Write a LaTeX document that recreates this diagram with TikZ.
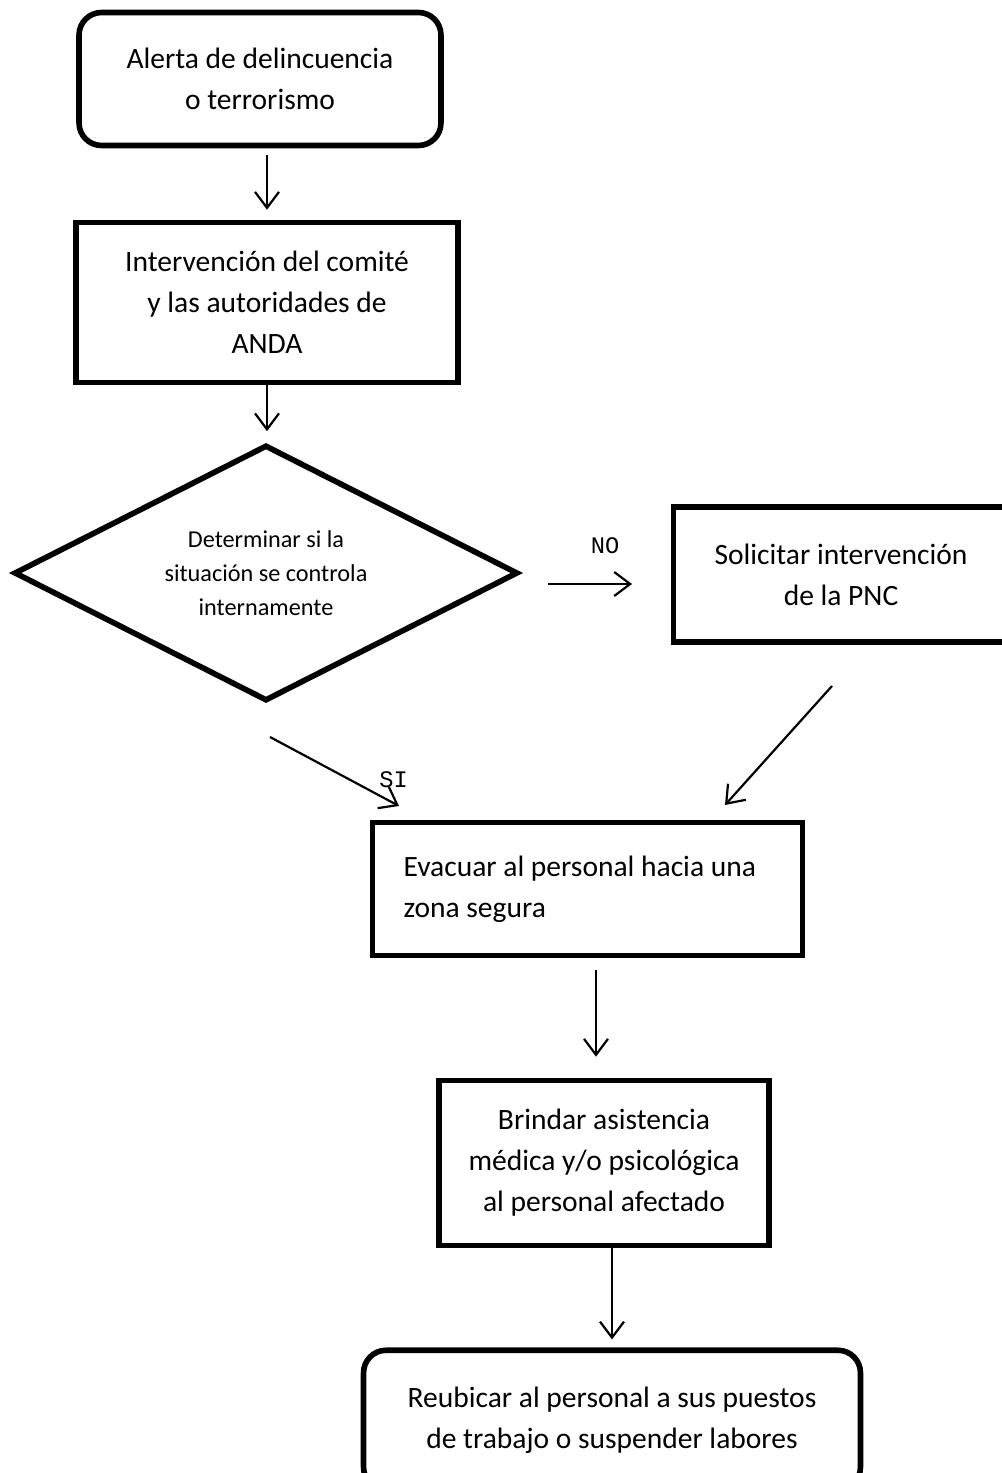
\documentclass[tikz,border=0pt]{standalone}
\usepackage{fontspec}
\setmainfont{Carlito}
\newfontfamily\labelfont{Liberation Mono}
\usetikzlibrary{arrows.meta,shapes.geometric}

\begin{document}
\begin{tikzpicture}[x=0.02cm,y=-0.02cm,
  caja/.style={draw,line width=3.2pt,align=center,inner sep=0pt,font=\fontsize{16.8}{23.3}\selectfont},
  redonda/.style={caja,rounded corners=0.45cm},
  rombo/.style={draw,diamond,aspect=2,line width=3.2pt,align=center,inner sep=0pt,font=\fontsize{13.8}{19.4}\selectfont},
  flecha/.style={line width=1.25pt,-{Straight Barb[length=0.32cm,width=0.48cm,line width=1.25pt]}},
  rotulo/.style={font=\labelfont\fontsize{13.5}{15}\selectfont}]
  \useasboundingbox (0,0) rectangle (1001,1473);
  \node[redonda,minimum width=7.24cm,minimum height=2.66cm] (alerta) at (260,79) {Alerta de delincuencia\\o terrorismo};
  \node[caja,minimum width=7.64cm,minimum height=3.2cm] (comite) at (267,302.5) {Intervención del comité\\y las autoridades de\\ANDA};
  \node[rombo,minimum width=10.08cm,minimum height=5.12cm] (decision) at (266,573) {Determinar si la\\situación se controla\\internamente};
  \node[caja,minimum width=6.7cm,minimum height=2.7cm] (pnc) at (841,574.5) {Solicitar intervención\\de la PNC};
  \node[caja,align=flush left,text width=7.36cm,minimum width=8.6cm,minimum height=2.66cm] (evacuar) at (587.5,889) {Evacuar al personal hacia una\\zona segura};
  \node[caja,minimum width=6.6cm,minimum height=3.3cm] (brindar) at (604,1163) {Brindar asistencia\\médica y/o psicológica\\al personal afectado};
  \node[redonda,minimum width=9.94cm,minimum height=2.79cm] (reubicar) at (612,1420) {Reubicar al personal a sus puestos\\de trabajo o suspender labores};
  \draw[flecha,shorten <=0.14cm,shorten >=0.2cm] (comite.north |- alerta.south) -- (comite.north);
  \draw[flecha,shorten >=0.22cm] (comite.south) -- (comite.south |- decision.north);
  \coordinate (noA) at (548,584);
  \coordinate (noB) at (632,584);
  \draw[flecha] (noA) -- (noB);
  \node[rotulo] (no) at (605,546) {NO};
  \coordinate (siA) at (270,737);
  \coordinate (siB) at (399,806);
  \draw[flecha] (siA) -- (siB);
  \node[rotulo] (si) at (393.5,780) {SI};
  \coordinate (pncA) at (832,686);
  \coordinate (pncB) at (725,805);
  \draw[flecha] (pncA) -- (pncB);
  \draw[flecha,shorten <=0.24cm,shorten >=0.42cm] (evacuar.south -| 596,0) -- (brindar.north -| 596,0);
  \draw[flecha,shorten >=0.16cm] (reubicar.north |- brindar.south) -- (reubicar.north);
\end{tikzpicture}
\end{document}
